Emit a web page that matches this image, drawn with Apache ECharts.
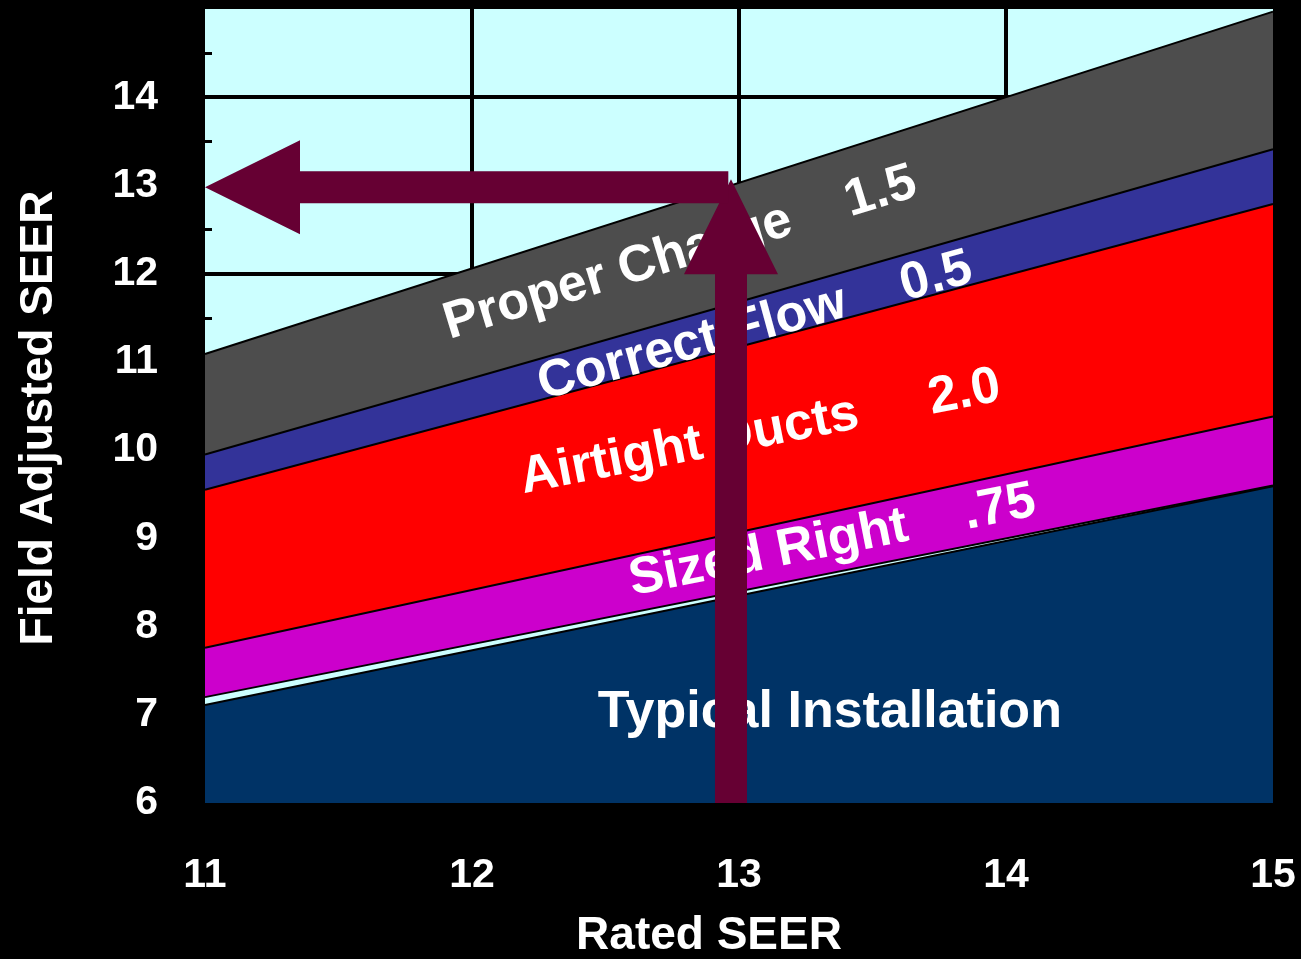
<!DOCTYPE html>
<html>
<head>
<meta charset="utf-8">
<script src="https://cdn.jsdelivr.net/npm/echarts@6/dist/echarts.min.js"></script>
<style>
    html, body { margin: 0; padding: 0; background: #000; }
    #chart { width: 1301px; height: 959px; }
</style>
</head>
<body>
<div id="chart"></div>
<script>
    // values (rated SEER at the two ends of each band)
    var ratedSeer = [11, 15];
    var properChargeTop = [11.09, 14.97];
    var correctFlowTop = [9.95, 13.41];
    var airtightDuctsTop = [9.55, 12.79];
    var sizedRightTop = [7.76, 10.38];
    var sizedRightBottom = [7.20, 9.60];
    var typicalTop = [7.11, 9.59];

    var bandNames = ['Proper Charge', 'Correct Flow', 'Airtight Ducts', 'Sized Right', 'Typical Installation'];
    var bandGains = ['1.5', '0.5', '2.0', '.75', ''];

    // the 13 -> 13 reading arrows  [x from, y from, x to, y to]
    var arrowUp = [12.97, 6, 12.97, 13.07];
    var arrowLeft = [12.96, 12.98, 11, 12.98];

    var font = 'Arial, "Liberation Sans", sans-serif';

    function pairs(ys) {
        return ratedSeer.map(function (x, i) { return [x, ys[i]]; });
    }

    function band(name, ys, color, z) {
        return {
            name: name,
            type: 'line',
            data: pairs(ys),
            z: z,
            showSymbol: false,
            silent: true,
            lineStyle: { color: '#000', width: 2 },
            areaStyle: { color: color, opacity: 1, origin: 'start' }
        };
    }

    // where the band captions sit (data coords) and their tilt
    var labelPlace = [
        { at: [12.78, 12.23], angle: 17, gap: 4 },
        { at: [13.06, 11.40], angle: 15.3, gap: 4 },
        { at: [13.08, 10.20], angle: 11, gap: 5 },
        { at: [13.35, 8.97], angle: 11.2, gap: 4 },
        { at: [13.34, 7.02], angle: 0, gap: 0 }
    ];

    var labelTexts = bandNames.map(function (n, i) {
        return bandGains[i] ? n + new Array(labelPlace[i].gap + 1).join(' ') + bandGains[i] : n;
    });

    function renderArrow(params, api) {
        var p0 = api.coord([api.value(0), api.value(1)]);
        var p1 = api.coord([api.value(2), api.value(3)]);
        var dx = p1[0] - p0[0], dy = p1[1] - p0[1];
        var len = Math.sqrt(dx * dx + dy * dy);
        var ux = dx / len, uy = dy / len;
        var nx = -uy, ny = ux;
        var sw = 16, hw = 47, hl = 95;
        var bx = p1[0] - ux * hl, by = p1[1] - uy * hl;
        return {
            type: 'polygon',
            shape: {
                points: [
                    [p0[0] + nx * sw, p0[1] + ny * sw],
                    [bx + nx * sw, by + ny * sw],
                    [bx + nx * hw, by + ny * hw],
                    [p1[0], p1[1]],
                    [bx - nx * hw, by - ny * hw],
                    [bx - nx * sw, by - ny * sw],
                    [p0[0] - nx * sw, p0[1] - ny * sw]
                ]
            },
            style: { fill: '#660033' }
        };
    }

    function renderLabel(params, api) {
        var p = api.coord([api.value(0), api.value(1)]);
        var place = labelPlace[params.dataIndex];
        return {
            type: 'text',
            x: p[0],
            y: p[1],
            rotation: place.angle * Math.PI / 180,
            style: {
                text: labelTexts[params.dataIndex],
                fill: '#fff',
                fontSize: 52,
                fontWeight: 'bold',
                fontFamily: font,
                align: 'center',
                verticalAlign: 'middle'
            }
        };
    }

    var chart = echarts.init(document.getElementById('chart'));

    var option = {
        animation: false,
        backgroundColor: '#000',
        grid: {
            left: 205, right: 28, top: 9, bottom: 156,
            outerBoundsMode: 'none',
            containLabel: false,
            show: true, backgroundColor: '#ccffff', borderWidth: 0
        },
        xAxis: {
            type: 'value',
            min: 11, max: 15, interval: 1,
            name: 'Rated SEER',
            nameLocation: 'middle',
            nameGap: 110,
            nameTextStyle: { color: '#fff', fontSize: 46, fontWeight: 'bold', fontFamily: font, padding: [0, 60, 0, 0] },
            axisLine: { show: false },
            axisTick: { show: false },
            axisLabel: { color: '#fff', fontSize: 41, fontWeight: 'bold', fontFamily: font, margin: 52 },
            splitLine: { show: true, showMinLine: false, showMaxLine: false, lineStyle: { color: '#000', width: 4 } }
        },
        yAxis: [{
            type: 'value',
            min: 6, max: 15, interval: 1,
            name: 'Field Adjusted SEER',
            nameLocation: 'middle',
            nameGap: 143,
            nameTextStyle: { color: '#fff', fontSize: 46, fontWeight: 'bold', fontFamily: font, padding: [0, 24, 0, 0] },
            axisLine: { show: false },
            axisTick: { show: false, inside: true },
            minorTick: { show: true, splitNumber: 2, length: 7, lineStyle: { color: '#000', width: 3 } },
            axisLabel: {
                color: '#fff', fontSize: 41, fontWeight: 'bold', fontFamily: font, margin: 47,
                padding: [6, 0, 0, 0],
                formatter: function (v) { return v >= 15 ? '' : String(v); }
            },
            splitLine: { show: false }
        }, {
            type: 'value',
            min: 6, max: 15, interval: 2,
            position: 'left',
            axisLine: { show: false },
            axisTick: { show: false },
            axisLabel: { show: false },
            splitLine: { show: true, showMaxLine: false, lineStyle: { color: '#000', width: 4 } }
        }],
        series: [
            band(bandNames[0], properChargeTop, '#4d4d4d', 2),
            band(bandNames[1], correctFlowTop, '#333399', 3),
            band(bandNames[2], airtightDuctsTop, '#ff0000', 4),
            band(bandNames[3], sizedRightTop, '#cc00cc', 5),
            band('gap', sizedRightBottom, '#ccffff', 6),
            band(bandNames[4], typicalTop, '#003366', 7),
            {
                type: 'custom',
                z: 10,
                silent: true,
                clip: false,
                renderItem: renderLabel,
                data: labelPlace.map(function (p) { return p.at; })
            },
            {
                type: 'custom',
                z: 11,
                silent: true,
                clip: false,
                encode: { x: [0, 2], y: [1, 3] },
                renderItem: renderArrow,
                data: [arrowUp, arrowLeft]
            }
        ]
    };

    chart.setOption(option);
</script>
</body>
</html>
